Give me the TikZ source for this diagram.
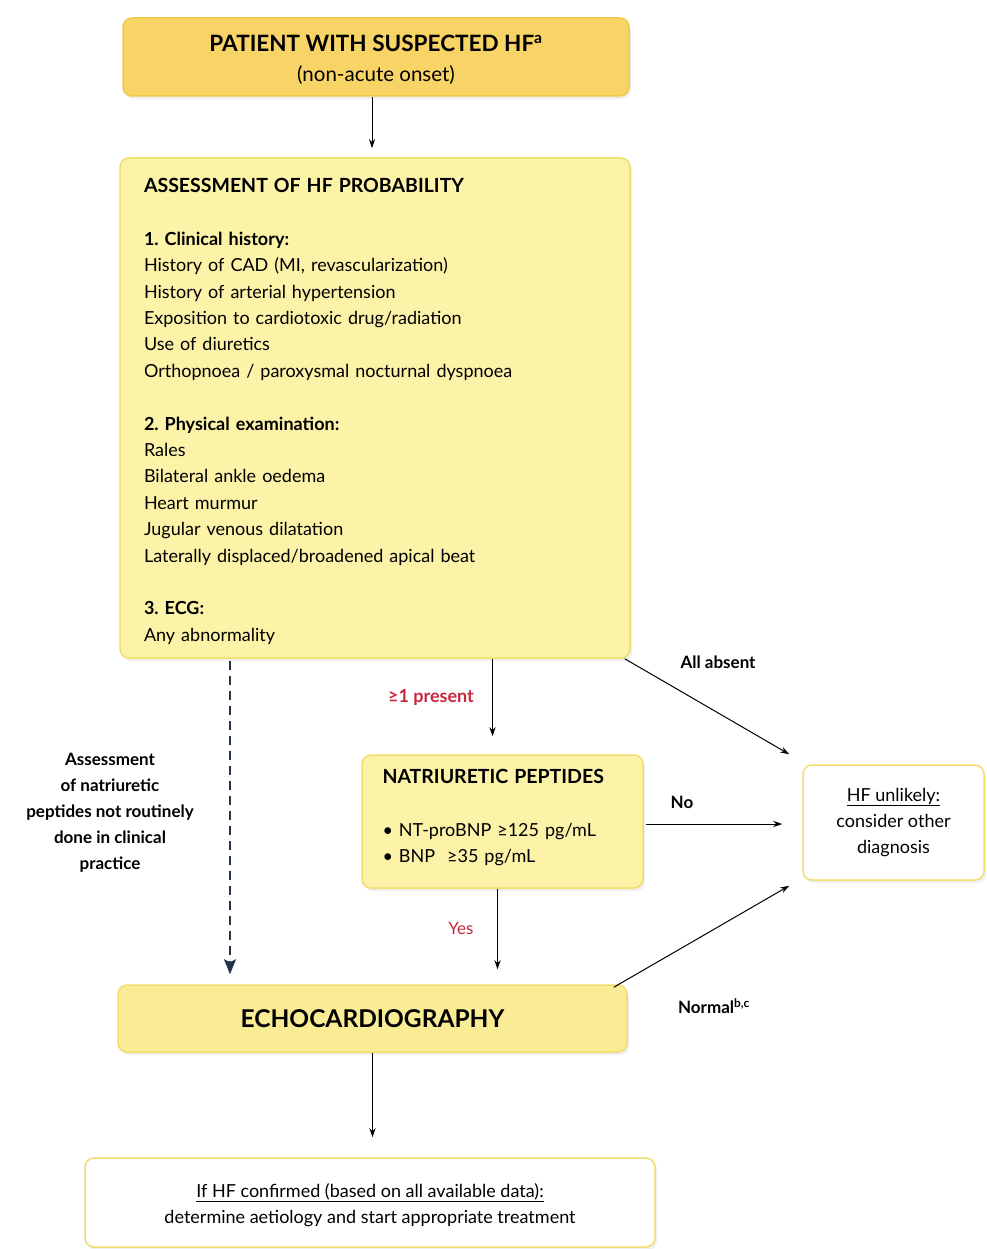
\documentclass[tikz,border=0pt]{standalone}
\usepackage{fontspec}
\setmainfont{Lato}
\usetikzlibrary{arrows.meta,shadows}
\frenchspacing

\definecolor{hfgold}{HTML}{F8D466}
\definecolor{hfpale}{HTML}{FCF2A8}
\definecolor{hfecho}{HTML}{FAEC94}
\definecolor{boxline}{HTML}{F1DE6C}
\definecolor{goldline}{HTML}{EFC84C}
\definecolor{hfred}{HTML}{C8283C}
\definecolor{hfnavy}{HTML}{22334A}

\begin{document}
\begin{tikzpicture}[x=1pt, y=-1pt]
    \tikzstyle{box}=[draw=boxline, line width=1.5pt, rounded corners=9pt, inner sep=0pt,
      drop shadow={opacity=0.12, shadow xshift=2pt, shadow yshift=-3pt}]
    \tikzstyle{gold}=[box, fill=hfgold, draw=goldline]
    \tikzstyle{pale}=[box, fill=hfpale]
    \tikzstyle{plain}=[box, fill=white]
    \tikzstyle{body}=[font=\fontsize{18}{26.4}\selectfont]
    \tikzstyle{flow}=[-{Stealth[length=9pt,width=6pt]}, line width=1pt]
    \tikzstyle{skip}=[-{Stealth[length=15pt,width=12pt,inset=3pt]}, line width=2pt, draw=hfnavy,
      dash pattern=on 9pt off 6pt]
    \tikzstyle{lbl}=[font=\bfseries\fontsize{17}{26}\selectfont]
    \tikzstyle{redlbl}=[text=hfred, font=\fontsize{17}{26}\selectfont]
    \newcommand{\hfhead}[1]{\textbf{\fontsize{19.5}{26.4}\selectfont #1}}

    \useasboundingbox (0,0) rectangle (986,1249);
    \fill[white] (0,0) rectangle (986,1249);

    % boxes
    \node[gold, minimum width=506pt, minimum height=78pt, align=center,
      font=\fontsize{20.5}{30}\selectfont] (patient) at (376,57)
      {\rule{0pt}{22pt}\textbf{\fontsize{22.5}{30}\selectfont PATIENT WITH SUSPECTED HF\textsuperscript{a}}\\
       (non-acute onset)};

    \node[pale, body, minimum width=510pt, minimum height=500pt, text width=462pt, align=left]
      (assess) at (375,408)
      {\rule{0pt}{21pt}\hfhead{ASSESSMENT OF HF PROBABILITY}\\[26.4pt]
       \textbf{1. Clinical history:}\\
       History of CAD (MI, revascularization)\\
       History of arterial hypertension\\
       Exposition to cardiotoxic drug/radiation\\
       Use of diuretics\\
       Orthopnoea / paroxysmal nocturnal dyspnoea\\[26.4pt]
       \textbf{2. Physical examination:}\\
       Rales\\
       Bilateral ankle oedema\\
       Heart murmur\\
       Jugular venous dilatation\\
       Laterally displaced/broadened apical beat\\[26.4pt]
       \textbf{3. ECG:}\\
       Any abnormality};

    \node[pale, body, minimum width=281pt, minimum height=133pt, text width=240pt, align=left]
      (nat) at (502.5,821.5)
      {\hfhead{NATRIURETIC PEPTIDES}\\[26.4pt]
       • NT-proBNP ≥125 pg/mL\\
       • BNP\ \ ≥35 pg/mL\rule[-11pt]{0pt}{1pt}};

    \node[plain, body, minimum width=181pt, minimum height=115pt, align=center]
      (unlikely) at (893.5,822.5)
      {\underline{HF unlikely:}\\ consider other\\ diagnosis};

    \node[box, fill=hfecho, minimum width=509pt, minimum height=67pt]
      (echo) at (372.5,1018.5)
      {\bfseries\fontsize{24.5}{28}\selectfont ECHOCARDIOGRAPHY};

    \node[plain, body, minimum width=570pt, minimum height=89pt, align=center]
      (treat) at (370,1202.5)
      {\rule{0pt}{19pt}\underline{If HF confirmed (based on all available data):}\\
       determine aetiology and start appropriate treatment};

    % connectors
    \path (patient.south -| 372,0) edge[flow, shorten >=9pt] (assess.north -| 372,0);
    \path ([xshift=-10pt]nat.north |- assess.south) edge[flow, shorten >=18pt] ([xshift=-10pt]nat.north);
    \path ([xshift=-6pt]assess.south east) edge[flow] ([xshift=-13pt,yshift=10pt]unlikely.north west);
    \path (nat.east |- 0,824) edge[flow, shorten <=2pt, shorten >=20pt] (unlikely.west |- 0,824);
    \path ([xshift=-5pt]nat.south) edge[flow, shorten >=15pt] ([xshift=-5pt]nat.south |- echo.north);
    \path ([xshift=-14pt,yshift=-3pt]echo.north east) edge[flow] ([xshift=-13pt,yshift=-5pt]unlikely.south west);
    \path (echo.south) edge[flow, shorten >=20pt] (echo.south |- treat.north);
    \path (assess.south -| 230,0) edge[skip, shorten <=2pt, shorten >=10pt] (echo.north -| 230,0);

    % labels
    \node[redlbl, font=\bfseries\fontsize{18}{26}\selectfont] (present) at (431,697) {≥1 present};
    \node[lbl] (absent) at (718,662) {All absent};
    \node[lbl] (no) at (682,802) {No};
    \node[redlbl] (yes) at (461,928) {Yes};
    \node[lbl] (normal) at (714,1006) {Normal\textsuperscript{b,c}};
    \node[lbl, align=center] (routine) at (110,813)
      {Assessment\\ of natriuretic\\ peptides not routinely\\ done in clinical\\ practice};
\end{tikzpicture}
\end{document}
